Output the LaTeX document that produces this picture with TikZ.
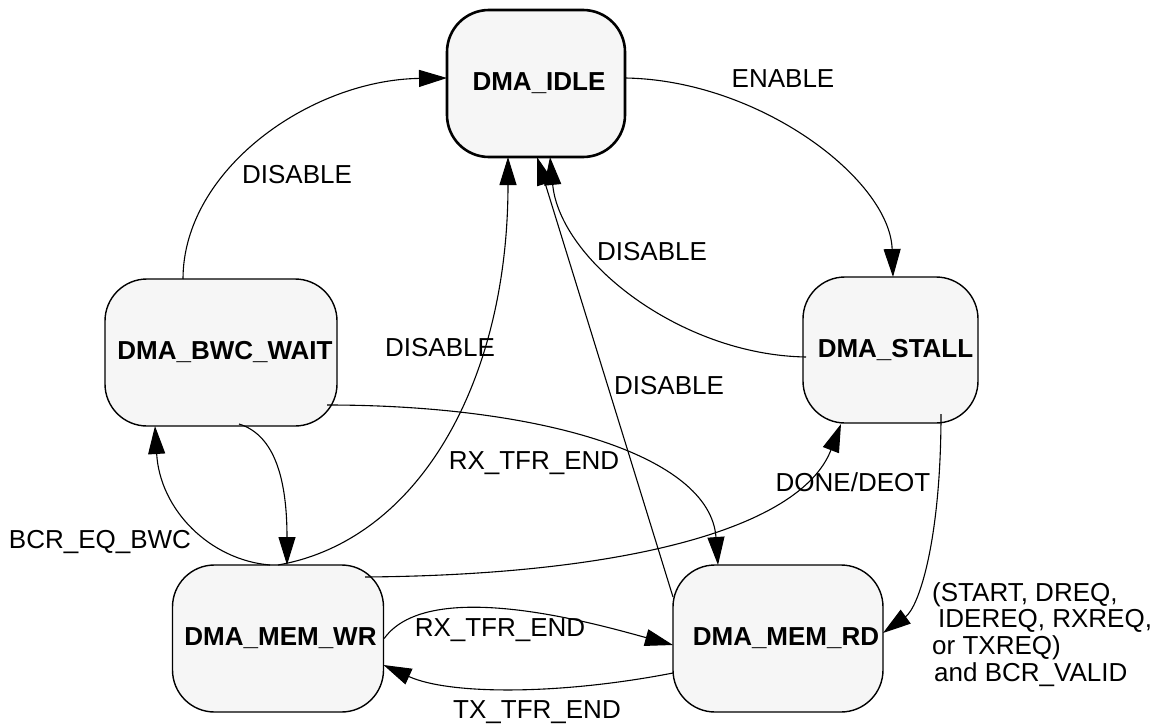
\documentclass[tikz,border=0pt]{standalone}
\usepackage{fontspec}
\setmainfont{Liberation Sans}
\usetikzlibrary{arrows.meta,calc}
\definecolor{statefill}{RGB}{246,246,246}
\begin{document}
\begin{tikzpicture}[x=1pt,y=-1pt,
  state/.style={draw=black, line width=1.4pt, fill=statefill, rounded corners=42pt,
    minimum height=147pt, inner sep=0pt, font=\fontsize{26}{30}\selectfont\bfseries},
  lbl/.style={inner sep=0pt, font=\fontsize{26}{30}\selectfont},
  tr/.style={line width=1.1pt, -{Triangle[length=28pt,width=17pt]}}]
\useasboundingbox (0,0) rectangle (1167,725);

% states
\node[state, line width=2.6pt, minimum width=178pt] (idle) at (536,83.5) {\hspace*{6pt}DMA\_IDLE};
\node[state, minimum width=232pt] (bwc) at (221,352.5) {\hspace*{8pt}DMA\_BWC\_WAIT};
\node[state, minimum width=175pt, minimum height=146pt] (stall) at (890.5,350) {\hspace*{10pt}DMA\_STALL};
\node[state, minimum width=211pt] (wr) at (278,638.5) {\hspace*{5pt}DMA\_MEM\_WR};
\node[state, minimum width=210pt] (rd) at (778,638.5) {\hspace*{16pt}DMA\_MEM\_RD};

% transitions
\draw[tr] ($(bwc)+(-38,-73.5)$) .. controls +(0,-109) and +(-137,2) .. ($(idle)+(-89,-5.5)$);
\draw[tr] ($(idle)+(89,-5.5)$) .. controls +(135,2) and +(-3,-97) .. ($(stall)+(2.5,-73)$);
\draw[tr] ($(stall)+(-84.5,7)$) .. controls +(-126,-2) and +(10,103) .. ($(idle)+(14,73.5)$);
\draw[tr] ($(rd)+(-105,-41.5)$) -- ($(idle)+(1,73.5)$);
\draw[tr] ($(wr)+(0,-73.5)$) .. controls +(142,-25) and +(0,223) .. ($(idle)+(-28,73.5)$);
\draw[tr] ($(bwc)+(18,71.5)$) .. controls +(36,11) and +(0,-85) .. ($(wr)+(9,-73.5)$);
\draw[tr] ($(wr)+(-8,-73.5)$) .. controls +(-60,-5) and +(5,84) .. ($(bwc)+(-66,73.5)$);
\draw[tr] ($(bwc)+(106,52.5)$) .. controls +(213,0) and +(-8,-110) .. ($(rd)+(-60,-73.5)$);
\draw[tr] ($(wr)+(87,-61.5)$) .. controls +(255,-2) and +(-41,106) .. ($(stall)+(-49.5,74)$);
\draw[tr] ($(stall)+(50.5,64)$) .. controls +(0,126) and +(36,-26) .. ($(rd)+(105,-5.5)$);
\draw[tr] (wr.east) .. controls +(45,-63) and +(-73,-20) .. ($(rd)+(-105,6.5)$);
\draw[tr] ($(rd)+(-105,34.5)$) .. controls +(-113,22) and +(66,30) .. ($(wr)+(105.5,26.5)$);

% labels
\node[lbl] (l1) at (297,175) {DISABLE};
\node[lbl] (l2) at (783,79) {ENABLE};
\node[lbl] (l3) at (652,252) {DISABLE};
\node[lbl] (l4) at (669,386) {DISABLE};
\node[lbl] (l5) at (440,348) {DISABLE};
\node[lbl] (l6) at (534,463) {RX\_TFR\_END};
\node[lbl] (l7) at (853,482) {DONE/DEOT};
\node[lbl] (l8) at (100,542) {BCR\_EQ\_BWC};
\node[lbl] (l9) at (500,630) {RX\_TFR\_END};
\node[lbl] (l10) at (537,712) {TX\_TFR\_END};
\node[lbl, anchor=north west, align=left, font=\fontsize{26}{26.7}\selectfont] (l11) at (932,582)
  {(START, DREQ,\\\hspace*{6pt}IDEREQ, RXREQ,\\or TXREQ)\\\hspace*{2pt}and BCR\_VALID};
\end{tikzpicture}
\end{document}
